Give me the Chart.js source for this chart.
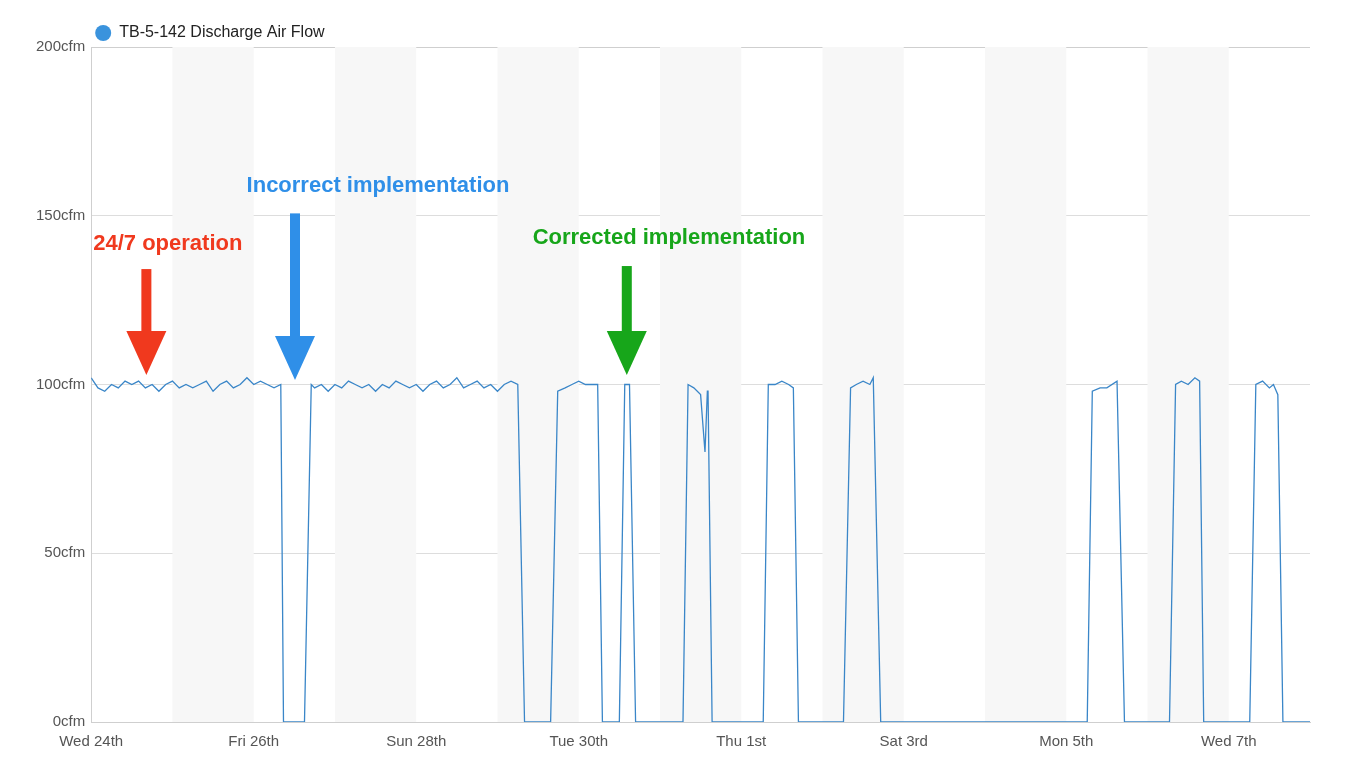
<!DOCTYPE html>
<html>
<head>
<meta charset="utf-8">
<script src="https://cdn.jsdelivr.net/npm/chart.js@4"></script>
<style>
  html, body { margin: 0; padding: 0; background: #fff; }
  #wrap { width: 1350px; height: 782px; }
</style>
</head>
<body>
<div id="wrap"><canvas id="flowChart"></canvas></div>
<script>
// ========== DATOS ==========
const dayLabels = ['Wed 24th', 'Fri 26th', 'Sun 28th', 'Tue 30th', 'Thu 1st', 'Sat 3rd', 'Mon 5th', 'Wed 7th'];
const yTickLabels = ['0cfm', '50cfm', '100cfm', '150cfm', '200cfm'];
const seriesName = 'TB-5-142 Discharge Air Flow';

// hours since Wed 24th 00:00
const hours = [
  0, 2, 4, 6, 8, 10, 12, 14, 16, 18, 20, 22, 24, 26, 28, 30, 32, 34, 36, 38, 40, 42, 44, 46, 48, 50, 52, 54, 56,
  56.8, 63, 65,
  66, 68, 70, 72, 74, 76, 78, 80, 82, 84, 86, 88, 90, 92, 94, 96, 98, 100, 102, 104, 106, 108, 110, 112, 114, 116, 118, 120, 122, 124, 126,
  128, 135.7, 137.8, 140, 142, 144, 146, 148, 149.6, 151,
  156, 157.6, 159, 160.8, 174.8, 176.3, 178, 180, 181.3, 182, 182.2, 183.4,
  198.5, 200, 202, 204, 206, 207.4, 208.9,
  222.2, 224.3, 226, 228, 230, 231, 233.2,
  294.2, 295.7, 298, 300, 303, 305.2,
  318.5, 320.3, 322, 324, 326, 327.4, 328.6,
  342.2, 344, 346, 348, 349.2, 350.5, 352, 360
];
const airflow = [
  102, 99, 98, 100, 99, 101, 100, 101, 99, 100, 98, 100, 101, 99, 100, 99, 100, 101, 98, 100, 101, 99, 100, 102, 100, 101, 100, 99, 100,
  0, 0, 100,
  99, 100, 98, 100, 99, 101, 100, 99, 100, 98, 100, 99, 101, 100, 99, 100, 98, 100, 101, 99, 100, 102, 99, 100, 101, 99, 100, 98, 100, 101, 100,
  0, 0, 98, 99, 100, 101, 100, 100, 100, 0,
  0, 100, 100, 0, 0, 100, 99, 97, 80, 98, 98, 0,
  0, 100, 100, 101, 100, 99, 0,
  0, 99, 100, 101, 100, 102, 0,
  0, 98, 99, 99, 101, 0,
  0, 100, 101, 100, 102, 101, 0,
  0, 100, 101, 99, 100, 97, 0, 0
];

// anotaciones: [texto, color, hora texto, valor texto, hora flecha, valor inicio, valor fin]
const notes = [
  ['24/7 operation', '#f0391e', 0.6, 141.7, 16.3, 134.2, 102.8],
  ['Incorrect implementation', '#2f8fe8', 45.9, 158.7, 60.2, 150.7, 101.3],
  ['Corrected implementation', '#17a61a', 130.4, 143.5, 158.2, 135.1, 102.8]
];

const FONT = '"Liberation Sans", Arial, sans-serif';

// ========== PLUGINS ==========
const dayBands = {
  id: 'dayBands',
  beforeDatasetsDraw(chart) {
    const { ctx, chartArea, scales: { x } } = chart;
    ctx.save();
    ctx.fillStyle = '#f7f7f7';
    for (let d = 1; d < 15; d += 2) {
      const x0 = x.getPixelForValue(d * 24);
      const x1 = x.getPixelForValue((d + 1) * 24);
      ctx.fillRect(x0, chartArea.top, x1 - x0, chartArea.bottom - chartArea.top);
    }
    ctx.restore();
  }
};

const annotations = {
  id: 'annotations',
  afterDatasetsDraw(chart) {
    const { ctx, chartArea, scales: { x, y } } = chart;
    ctx.save();
    // leyenda
    ctx.fillStyle = '#3a93dd';
    ctx.beginPath();
    ctx.arc(chartArea.left + 12, 33, 8, 0, Math.PI * 2);
    ctx.fill();
    ctx.fillStyle = '#222';
    ctx.font = '16px ' + FONT;
    ctx.textBaseline = 'middle';
    ctx.fillText(seriesName, chartArea.left + 28, 33);

    notes.forEach(n => {
      const [text, color, tx, ty, ax, a0, a1] = n;
      ctx.fillStyle = color;
      ctx.font = 'bold 22px ' + FONT;
      ctx.textBaseline = 'middle';
      ctx.fillText(text, x.getPixelForValue(tx), y.getPixelForValue(ty));
      const px = x.getPixelForValue(ax);
      const py0 = y.getPixelForValue(a0);
      const py1 = y.getPixelForValue(a1);
      const head = 44;
      ctx.fillRect(px - 5, py0, 10, py1 - py0 - head + 4);
      ctx.beginPath();
      ctx.moveTo(px - 20, py1 - head);
      ctx.lineTo(px + 20, py1 - head);
      ctx.lineTo(px, py1);
      ctx.closePath();
      ctx.fill();
    });
    ctx.restore();
  }
};

// ========== GRÁFICO ==========
const ctxFlow = document.getElementById('flowChart').getContext('2d');
new Chart(ctxFlow, {
  type: 'line',
  data: {
    datasets: [{
      label: seriesName,
      data: hours.map((h, i) => ({ x: h, y: airflow[i] })),
      borderColor: '#3a86c8',
      borderWidth: 1.3,
      pointRadius: 0,
      tension: 0
    }]
  },
  options: {
    responsive: true,
    maintainAspectRatio: false,
    animation: false,
    layout: { padding: { left: 30, right: 40, top: 47, bottom: 28 } },
    plugins: {
      legend: { display: false },
      tooltip: { enabled: false }
    },
    scales: {
      x: {
        type: 'linear',
        min: 0,
        max: 360,
        border: { display: true, color: '#cfcfcf' },
        grid: { display: false },
        ticks: {
          stepSize: 48,
          autoSkip: false,
          color: '#555',
          font: { size: 15, family: FONT },
          callback: v => dayLabels[v / 48] || ''
        }
      },
      y: {
        min: 0,
        max: 200,
        border: { display: true, color: '#cfcfcf' },
        grid: {
          color: ctx => ctx.tick.value === 200 ? '#cfcfcf' : (ctx.tick.value === 0 ? 'rgba(0,0,0,0)' : '#dddddd'),
          tickBorderDash: [6, 4],
          drawTicks: false
        },
        ticks: {
          stepSize: 50,
          padding: 6,
          color: '#555',
          font: { size: 15, family: FONT },
          callback: v => yTickLabels[v / 50]
        }
      }
    }
  },
  plugins: [dayBands, annotations]
});
</script>
</body>
</html>
